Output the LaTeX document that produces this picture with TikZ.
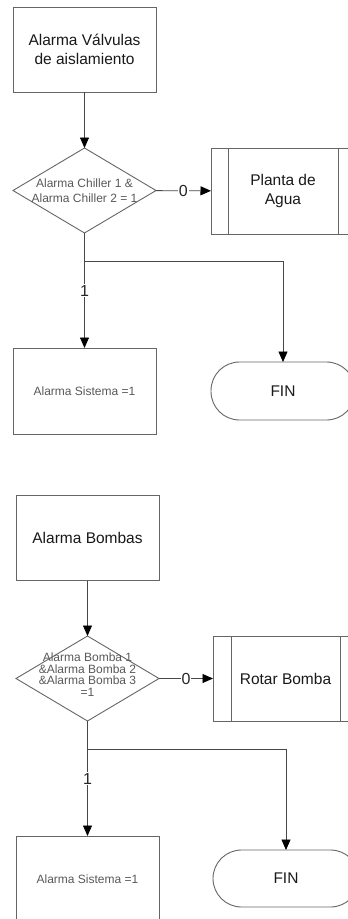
\documentclass[tikz,border=0pt]{standalone}
\usepackage{fontspec}
\setmainfont{Liberation Sans}
\usetikzlibrary{shapes.geometric,arrows.meta}
\begin{document}
\begin{tikzpicture}[x=1pt,y=-1pt,
  line width=0.9pt,
  box/.style={draw=black!60, rectangle, minimum width=143pt, minimum height=85pt,
    inner sep=0pt, outer sep=0pt, align=center,
    font=\fontsize{15.5}{19}\selectfont, text=black!90},
  sbox/.style={box, font=\fontsize{12}{14}\selectfont, text=black!65},
  smalltxt/.style={font=\fontsize{12}{15}\selectfont, text=black!65, align=center, inner sep=0pt},
  dec/.style={draw=black!60, diamond, minimum width=143pt, minimum height=85pt,
    inner sep=0pt, outer sep=0pt},
  term/.style={draw=black!60, rectangle, rounded corners=28.5pt, minimum width=144pt,
    minimum height=58pt, inner sep=0pt, outer sep=0pt,
    font=\fontsize{15.5}{19}\selectfont, text=black!90},
  flow/.style={draw=black!72, -{Triangle[width=9pt,length=10.5pt,color=black]}},
  lbl/.style={fill=white, inner sep=1pt, font=\fontsize{16}{18}\selectfont, text=black!85}
]
\fill[white] (0,0) rectangle (348,919);
\useasboundingbox (0,0) rectangle (348,919);
\clip (0,0) rectangle (348,919);

% ---- upper flow ----
\node[box] (a1) at (84.5,49.5) {Alarma Válvulas\\de aislamiento};
\node[dec, label={[smalltxt]center:Alarma Chiller 1 \&\\Alarma Chiller 2 = 1}] (d1) at (84.5,190.5) {};
\node[box, minimum width=144pt, minimum height=86pt] (p1) at (283,191) {Planta de\\Agua};
\draw[draw=black!60] ([xshift=17pt]p1.north west) -- ([xshift=17pt]p1.south west);
\draw[draw=black!60] ([xshift=-17pt]p1.north east) -- ([xshift=-17pt]p1.south east);
\node[sbox, minimum height=86pt] (s1) at (84.5,391) {Alarma Sistema =1};
\node[term] (f1) at (283,391) {FIN};
\coordinate (j1) at (84.5,261);

\draw[flow] (a1) -- (d1);
\draw[flow] (d1) -- node[lbl]{0} (p1);
\draw[flow] (d1) -- node[lbl]{1} (s1);
\draw[flow] (j1) -| (f1);

% ---- lower flow ----
\node[box] (a2) at (87.5,538) {Alarma Bombas};
\node[dec, label={[smalltxt, font=\fontsize{12}{11.5}\selectfont, yshift=4pt]center:Alarma Bomba 1\\\&Alarma Bomba 2\\\&Alarma Bomba 3\\=1}] (d2) at (87.5,678.5) {};
\node[box, minimum width=145pt] (p2) at (285.5,678.5) {Rotar Bomba};
\draw[draw=black!60] ([xshift=18pt]p2.north west) -- ([xshift=18pt]p2.south west);
\draw[draw=black!60] ([xshift=-18pt]p2.north east) -- ([xshift=-18pt]p2.south east);
\node[sbox, minimum height=86pt] (s2) at (87.5,879) {Alarma Sistema =1};
\node[term, minimum width=146pt, minimum height=57pt] (f2) at (286,878.5) {FIN};
\coordinate (j2) at (87.5,749);

\draw[flow] (a2) -- (d2);
\draw[flow] (d2) -- node[lbl]{0} (p2);
\draw[flow] (d2) -- node[lbl]{1} (s2);
\draw[flow] (j2) -| (f2);
\end{tikzpicture}
\end{document}
